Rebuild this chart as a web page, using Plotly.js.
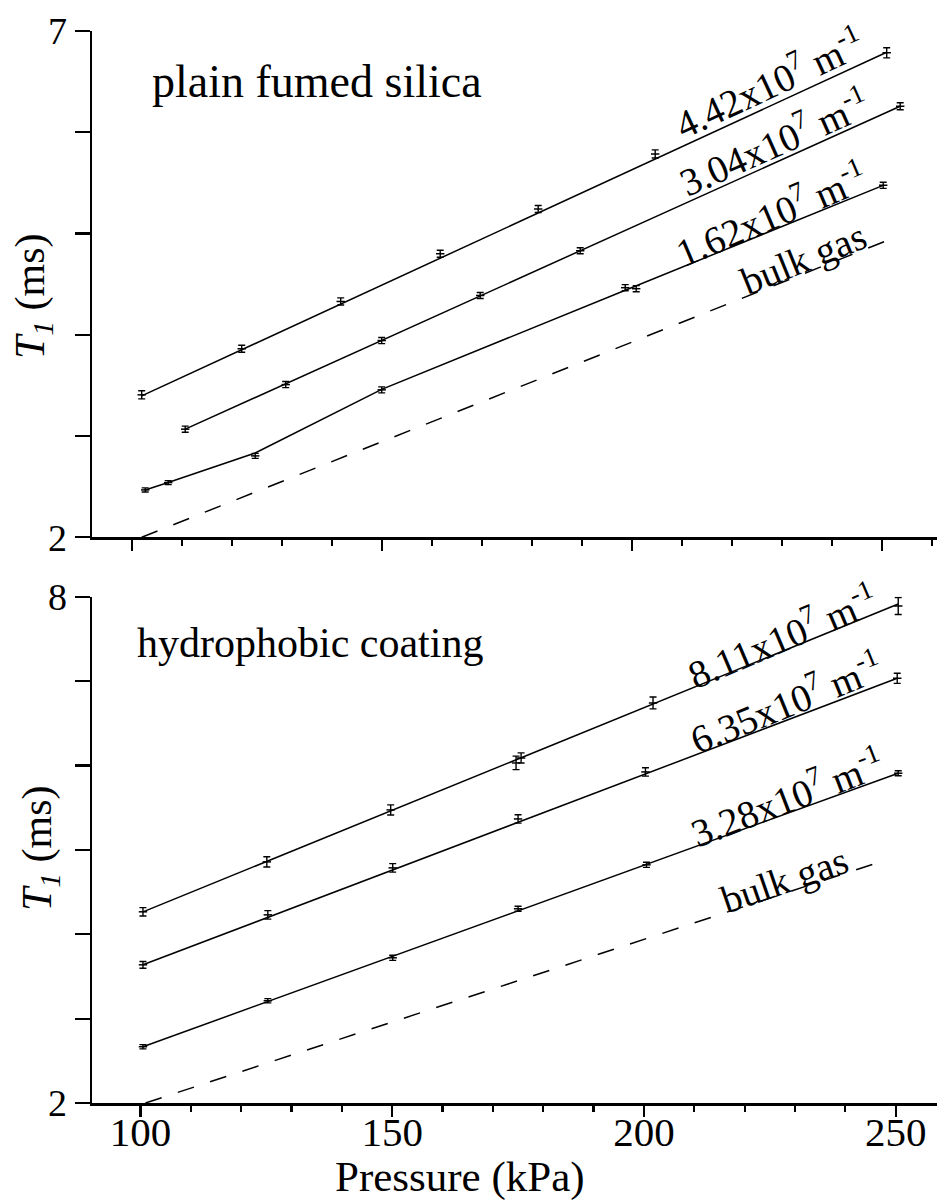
<!DOCTYPE html>
<html>
<head>
<meta charset="utf-8">
<script src="https://cdn.plot.ly/plotly-3.0.1.min.js"></script>
<style>html,body{margin:0;padding:0;background:#fff;}#chart{width:939px;height:1203px;}</style>
</head>
<body>
<div id="chart"></div>
<script>
// ---------- Top panel: plain fumed silica ----------
const topA_x = [102.0, 122.0, 141.8, 161.7, 181.3, 204.7, 251.0];
const topA_y = [3.407, 3.862, 4.329, 4.800, 5.242, 5.786, 6.785];
const topA_err = [0.04, 0.035, 0.035, 0.035, 0.035, 0.04, 0.05];
const topA_fit_x = [102.0, 251.0];
const topA_fit_y = [3.397, 6.790];

const topB_x = [110.7, 130.8, 150.0, 169.7, 189.7, 253.7];
const topB_y = [3.068, 3.508, 3.943, 4.388, 4.830, 6.257];
const topB_err = [0.03, 0.03, 0.03, 0.03, 0.03, 0.035];
const topB_fit_x = [110.7, 253.7];
const topB_fit_y = [3.068, 6.257];

const topC_x = [102.7, 107.3, 124.7, 150.0, 198.7, 200.9, 250.3];
const topC_y = [2.468, 2.540, 2.804, 3.456, 4.465, 4.455, 5.476];
const topC_err = [0.02, 0.02, 0.025, 0.03, 0.03, 0.03, 0.03];
const topC_fit_x = [102.7, 107.3, 124.7, 150.0, 199.7, 250.3];
const topC_fit_y = [2.468, 2.542, 2.833, 3.461, 4.459, 5.476];

const topBulk_x = [102.0, 252.3];
const topBulk_y = [2.0, 4.955];

const topLabels = ["4.42x10<sup>7</sup> m<sup>-1</sup>", "3.04x10<sup>7</sup> m<sup>-1</sup>", "1.62x10<sup>7</sup> m<sup>-1</sup>", "bulk gas"];

// ---------- Bottom panel: hydrophobic coating ----------
const botD_x = [100.5, 125.1, 149.7, 174.6, 175.6, 201.8, 250.5];
const botD_y = [4.266, 4.858, 5.474, 6.031, 6.090, 6.742, 7.891];
const botD_err = [0.05, 0.06, 0.06, 0.08, 0.06, 0.07, 0.1];
const botD_fit_x = [100.5, 250.5];
const botD_fit_y = [4.266, 7.914];

const botE_x = [100.5, 125.3, 150.1, 175.0, 200.3, 250.3];
const botE_y = [3.638, 4.230, 4.787, 5.367, 5.924, 7.034];
const botE_err = [0.04, 0.05, 0.05, 0.05, 0.05, 0.06];
const botE_fit_x = [100.5, 250.3];
const botE_fit_y = [3.638, 7.034];

const botF_x = [100.5, 125.3, 150.1, 175.0, 200.5, 250.5];
const botF_y = [2.667, 3.212, 3.721, 4.302, 4.823, 5.909];
const botF_err = [0.025, 0.025, 0.03, 0.03, 0.03, 0.03];
const botF_fit_x = [100.5, 250.5];
const botF_fit_y = [2.667, 5.909];

const botBulk_x = [101.0, 246.9];
const botBulk_y = [2.0, 4.858];

const botLabels = ["8.11x10<sup>7</sup> m<sup>-1</sup>", "6.35x10<sup>7</sup> m<sup>-1</sup>", "3.28x10<sup>7</sup> m<sup>-1</sup>", "bulk gas"];

const xTicks = [100, 150, 200, 250];
const topYTicks = [2, 3, 4, 5, 6, 7];
const topYText = ["2", "", "", "", "", "7"];
const botYTicks = [2, 3, 4, 5, 6, 7, 8];
const botYText = ["2", "", "", "", "", "", "8"];

const FONT = "Liberation Serif, Times New Roman, serif";
const black = "#000";

function pts(x, y, err, xa, ya) {
  return {
    x: x, y: y, xaxis: xa, yaxis: ya, mode: "markers", type: "scatter",
    marker: {symbol: "line-ew", size: 6, color: black, line: {color: black, width: 1.5}},
    error_y: {type: "data", array: err, visible: true, color: black, thickness: 1.4, width: 3.5},
    showlegend: false, hoverinfo: "skip"
  };
}
function fit(x, y, xa, ya, dash) {
  return {
    x: x, y: y, xaxis: xa, yaxis: ya, mode: "lines", type: "scatter",
    line: {color: black, width: 1.5, dash: dash || "solid"},
    showlegend: false, hoverinfo: "skip"
  };
}

const data = [
  fit(topA_fit_x, topA_fit_y, "x2", "y2"), pts(topA_x, topA_y, topA_err, "x2", "y2"),
  fit(topB_fit_x, topB_fit_y, "x2", "y2"), pts(topB_x, topB_y, topB_err, "x2", "y2"),
  fit(topC_fit_x, topC_fit_y, "x2", "y2"), pts(topC_x, topC_y, topC_err, "x2", "y2"),
  fit(topBulk_x, topBulk_y, "x2", "y2", "17px,17px"),
  fit(botD_fit_x, botD_fit_y, "x", "y"), pts(botD_x, botD_y, botD_err, "x", "y"),
  fit(botE_fit_x, botE_fit_y, "x", "y"), pts(botE_x, botE_y, botE_err, "x", "y"),
  fit(botF_fit_x, botF_fit_y, "x", "y"), pts(botF_x, botF_y, botF_err, "x", "y"),
  fit(botBulk_x, botBulk_y, "x", "y", "17px,17px")
];

const xCommon = {
  showline: true, linewidth: 2.5, linecolor: black, mirror: false,
  ticks: "outside", ticklen: 11, tickwidth: 2.2, tickcolor: black,
  tickvals: xTicks, showgrid: false, zeroline: false,
  minor: {tick0: 100, dtick: 10, ticks: "outside", ticklen: 6, tickwidth: 2.2, tickcolor: black, showgrid: false},
  tickfont: {family: FONT, size: 41, color: black}
};
const yCommon = {
  showline: true, linewidth: 2.5, linecolor: black,
  ticks: "outside", ticklen: 15, tickwidth: 2.2, tickcolor: black,
  showgrid: false, zeroline: false,
  tickfont: {family: FONT, size: 38, color: black}
};

function ann(text, x, y, xref, yref, angle, size, extra) {
  return Object.assign({
    text: text, x: x, y: y, xref: xref, yref: yref, showarrow: false,
    xanchor: "center", yanchor: "middle",
    textangle: angle, font: {family: FONT, size: size, color: black}
  }, extra || {});
}

const annotations = [
  ann(topLabels[0], 227.3, 6.50, "x2", "y2", -25, 39),
  ann(topLabels[1], 228.3, 5.918, "x2", "y2", -24, 39),
  ann(topLabels[2], 227.7, 5.206, "x2", "y2", -23, 39),
  ann(topLabels[3], 234.3, 4.751, "x2", "y2", -22, 39),
  ann(botLabels[0], 227.4, 7.547, "x", "y", -23, 39),
  ann(botLabels[1], 228.2, 6.766, "x", "y", -22, 39),
  ann(botLabels[2], 228.4, 5.640, "x", "y", -21, 39),
  ann(botLabels[3], 228.0, 4.645, "x", "y", -19, 39),
  ann("plain fumed silica", 103.66, 6.50, "x2", "y2", 0, 46, {xanchor: "left"}),
  ann("hydrophobic coating", 98.87, 7.452, "x", "y", 0, 42, {xanchor: "left"}),
  ann("<i>T<sub>1</sub></i> (ms)", -0.0698, 0.7528, "paper", "paper", -90, 42),
  ann("<i>T<sub>1</sub></i> (ms)", -0.0615, 0.2379, "paper", "paper", -90, 42),
  ann("Pressure (kPa)", 0.4355, -0.0688, "paper", "paper", 0, 43)
];

const layout = {
  width: 939, height: 1203,
  margin: {l: 92, r: 2, t: 31, b: 100, pad: 0},
  paper_bgcolor: "#fff", plot_bgcolor: "#fff",
  showlegend: false,
  font: {family: FONT, color: black},
  xaxis: Object.assign({}, xCommon, {domain: [0, 1], range: [90.38, 258.2], anchor: "y", showticklabels: true, ticklabelstandoff: -20}),
  yaxis: Object.assign({}, yCommon, {domain: [0, 0.4722], range: [2, 8], anchor: "x", tickvals: botYTicks, ticktext: botYText}),
  xaxis2: Object.assign({}, xCommon, {domain: [0, 1], range: [92.06, 261.06], anchor: "y2", showticklabels: false}),
  yaxis2: Object.assign({}, yCommon, {domain: [0.5277, 1], range: [2, 7], anchor: "x2", tickvals: topYTicks, ticktext: topYText}),
  annotations: annotations
};

Plotly.newPlot("chart", data, layout, {staticPlot: true, displayModeBar: false});
</script>
</body>
</html>
